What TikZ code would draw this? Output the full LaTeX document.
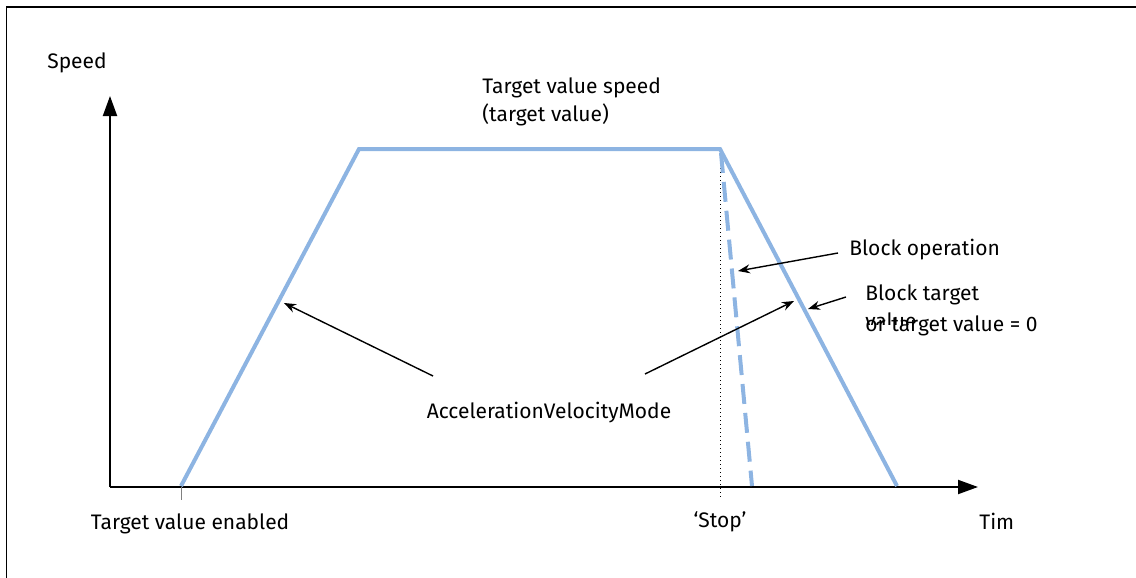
\documentclass[tikz,border=0pt]{standalone}
\usepackage{fontspec}
\setmainfont{Fira Sans}
\usetikzlibrary{arrows.meta}
\definecolor{rampblue}{RGB}{141,180,226}
\tikzset{
  axis/.style={line width=1pt,-{Triangle[length=10pt,width=7pt]}},
  ramp/.style={rampblue,line width=2pt},
  pointer/.style={line width=0.7pt,-{Stealth[length=6pt,width=4.5pt]}},
  lbl/.style={font=\fontsize{10.5}{14}\selectfont,inner sep=0pt},
}
\begin{document}
\begin{tikzpicture}[x=0.5pt,y=-0.5pt]
  \useasboundingbox (0,0) rectangle (1136,578);
  \draw[line width=0.6pt] (6.5,578) -- (6.5,7) -- (1136,7);
  % axes
  \coordinate (o) at (110,487);
  \coordinate (ytop) at (110,96);
  \coordinate (xend) at (978,487);
  \draw[axis] (o) -- (ytop);
  \draw[axis] (o) -- (xend);
  % speed profile
  \coordinate (start) at (181,486);
  \coordinate (up) at (359,149);
  \coordinate (stop) at (720,149);
  \coordinate (down) at (897,486);
  \coordinate (brk) at (721,153);
  \coordinate (fast) at (752,486);
  \draw[dash pattern=on 0.5pt off 1.5pt,line width=0.4pt] (720,152) -- (720,500);
  \draw[gray,line width=0.5pt] (181,487) -- (181,500);
  \draw[ramp,dash pattern=on 10pt off 4.5pt] (brk) -- (fast);
  \draw[ramp] (start) -- (up) -- (stop) -- (down);
  % labels
  \node[lbl] (speed) at (77,63) {Speed};
  \node[lbl,anchor=west,align=left] (target) at (482,102) {Target value speed\\(target value)};
  \node[lbl] (accel) at (549,413) {AccelerationVelocityMode};
  \node[lbl] (enabled) at (190,524) {Target value enabled};
  \node[lbl] (stoplbl) at (720,522) {‘Stop’};
  \node[lbl,anchor=west] (time) at (979,521) {Tim};
  \node[lbl,anchor=west] (block) at (849,250) {Block operation};
  \node[lbl,anchor=west] (blocktgt) at (865,295) {Block target};
  \begin{scope}
    \clip (860,312) rectangle (960,324);
    \node[lbl,anchor=west] (value) at (865,321) {value};
  \end{scope}
  \node[lbl,anchor=west] (orzero) at (865,326) {or target value = 0};
  % pointers
  \coordinate (a1) at (433,376);
  \coordinate (h1) at (284,303);
  \coordinate (a2) at (645,374);
  \coordinate (h2) at (794,301);
  \coordinate (a3) at (838,253);
  \coordinate (h3) at (738,271);
  \coordinate (a4) at (846,297);
  \coordinate (h4) at (808,309);
  \draw[pointer] (a1) -- (h1);
  \draw[pointer] (a2) -- (h2);
  \draw[pointer] (a3) -- (h3);
  \draw[pointer] (a4) -- (h4);
\end{tikzpicture}
\end{document}
